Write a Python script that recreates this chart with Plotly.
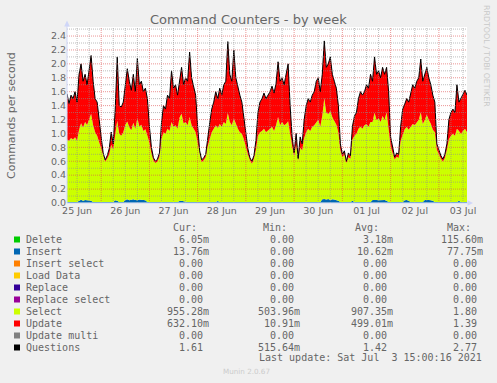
import plotly.graph_objects as go
import pandas as pd

# ---------------- data ----------------
chart_title = "Command Counters - by week"
y_title = "Commands per second"
watermark = "RRDTOOL / TOBI OETIKER"
footer = "Munin 2.0.67"
last_update = "Last update: Sat Jul\u00a0 3 15:00:16 2021"

start = "2021-06-25 07:00"
end = "2021-07-03 14:00"

day_labels = ["25 Jun", "26 Jun", "27 Jun", "28 Jun", "29 Jun", "30 Jun", "01 Jul", "02 Jul", "03 Jul"]
day_label_pos = ["2021-06-25 12:00", "2021-06-26 12:00", "2021-06-27 12:00", "2021-06-28 12:00",
                 "2021-06-29 12:00", "2021-06-30 12:00", "2021-07-01 12:00", "2021-07-02 12:00",
                 "2021-07-03 12:00"]
y_ticks = [0.0, 0.2, 0.4, 0.6, 0.8, 1.0, 1.2, 1.4, 1.6, 1.8, 2.0, 2.2, 2.4]

# hourly values starting 2021-06-25 07:00
delete = [
    0.004, 0.004, 0.004, 0.004, 0.004, 0.004, 0.004, 0.012, 0.004, 0.004, 0.010, 0.004, 0.004, 0.004, 0.004, 0.004, 0.004, 0.004, 0.004, 0.004,
    0.004, 0.004, 0.004, 0.004, 0.004, 0.004, 0.004, 0.004, 0.004, 0.004, 0.008, 0.004, 0.004, 0.004, 0.004, 0.004, 0.004, 0.004, 0.004, 0.004,
    0.004, 0.004, 0.004, 0.004, 0.004, 0.004, 0.004, 0.004, 0.004, 0.004, 0.004, 0.004, 0.004, 0.004, 0.004, 0.004, 0.004, 0.004, 0.004, 0.004,
    0.004, 0.004, 0.004, 0.004, 0.004, 0.004, 0.004, 0.004, 0.004, 0.004, 0.004, 0.004, 0.004, 0.004, 0.004, 0.004, 0.004, 0.004, 0.004, 0.004,
    0.010, 0.004, 0.004, 0.004, 0.004, 0.004, 0.004, 0.004, 0.004, 0.004, 0.004, 0.004, 0.004, 0.004, 0.004, 0.004, 0.004, 0.004, 0.004, 0.004,
    0.004, 0.004, 0.004, 0.004, 0.004, 0.004, 0.004, 0.004, 0.004, 0.004, 0.004, 0.004, 0.004, 0.004, 0.004, 0.004, 0.004, 0.004, 0.004, 0.004,
    0.004, 0.004, 0.004, 0.004, 0.004, 0.004, 0.004, 0.004, 0.004, 0.004, 0.008, 0.004, 0.004, 0.004, 0.004, 0.004, 0.004, 0.004, 0.004, 0.004,
    0.004, 0.004, 0.004, 0.004, 0.004, 0.004, 0.004, 0.004, 0.004, 0.004, 0.004, 0.004, 0.004, 0.004, 0.004, 0.004, 0.004, 0.004, 0.004, 0.004,
    0.004, 0.004, 0.004, 0.004, 0.004, 0.004, 0.004, 0.004, 0.004, 0.004, 0.004, 0.004, 0.004, 0.004, 0.004, 0.004, 0.004, 0.004, 0.004, 0.004,
    0.004, 0.004, 0.004, 0.004, 0.004, 0.004, 0.004, 0.004, 0.004, 0.004, 0.004, 0.004, 0.004, 0.004, 0.004, 0.004, 0.004, 0.004, 0.004, 0.004,
]
insert = [
    0.010, 0.010, 0.010, 0.010, 0.010, 0.010, 0.030, 0.035, 0.030, 0.040, 0.030, 0.035, 0.030, 0.012, 0.012, 0.012, 0.012, 0.012, 0.012, 0.012,
    0.012, 0.012, 0.012, 0.012, 0.035, 0.030, 0.012, 0.012, 0.012, 0.040, 0.045, 0.035, 0.040, 0.050, 0.040, 0.035, 0.045, 0.040, 0.030, 0.035,
    0.012, 0.012, 0.012, 0.012, 0.012, 0.012, 0.012, 0.012, 0.012, 0.012, 0.012, 0.012, 0.012, 0.012, 0.012, 0.012, 0.025, 0.030, 0.020, 0.012,
    0.012, 0.012, 0.012, 0.012, 0.012, 0.012, 0.012, 0.012, 0.012, 0.012, 0.012, 0.012, 0.012, 0.012, 0.012, 0.025, 0.012, 0.012, 0.012, 0.012,
    0.012, 0.012, 0.012, 0.012, 0.012, 0.012, 0.012, 0.012, 0.012, 0.012, 0.012, 0.012, 0.012, 0.012, 0.012, 0.012, 0.012, 0.012, 0.012, 0.012,
    0.012, 0.012, 0.012, 0.012, 0.012, 0.012, 0.012, 0.012, 0.012, 0.012, 0.020, 0.012, 0.012, 0.012, 0.012, 0.012, 0.012, 0.012, 0.012, 0.012,
    0.012, 0.012, 0.012, 0.012, 0.012, 0.012, 0.012, 0.050, 0.055, 0.045, 0.050, 0.040, 0.050, 0.045, 0.040, 0.030, 0.012, 0.012, 0.012, 0.012,
    0.012, 0.012, 0.030, 0.012, 0.012, 0.012, 0.012, 0.012, 0.012, 0.012, 0.012, 0.012, 0.040, 0.045, 0.040, 0.035, 0.040, 0.045, 0.040, 0.030,
    0.012, 0.012, 0.012, 0.012, 0.012, 0.012, 0.012, 0.012, 0.035, 0.040, 0.030, 0.012, 0.012, 0.012, 0.012, 0.012, 0.012, 0.012, 0.040, 0.045,
    0.040, 0.035, 0.030, 0.012, 0.012, 0.012, 0.012, 0.012, 0.012, 0.012, 0.012, 0.012, 0.012, 0.012, 0.012, 0.030, 0.012, 0.012, 0.012, 0.012,
]
select = [
    0.90, 0.88, 0.92, 0.90, 0.93, 0.88, 1.02, 1.10, 1.05, 1.12, 1.08, 1.15, 1.25, 1.10, 1.00, 0.95, 0.85, 0.78, 0.66, 0.58,
    0.62, 0.68, 0.82, 0.75, 0.95, 1.15, 0.98, 0.95, 1.00, 1.08, 1.12, 1.05, 1.00, 1.10, 1.02, 1.18, 1.05, 1.08, 1.00, 1.02,
    0.95, 0.85, 0.70, 0.60, 0.56, 0.58, 0.65, 0.90, 1.00, 0.98, 1.05, 1.02, 1.15, 1.08, 1.10, 1.05, 1.20, 1.25, 1.12, 1.15,
    1.10, 1.22, 1.10, 1.05, 1.00, 0.85, 0.68, 0.57, 0.60, 0.64, 0.80, 0.90, 1.00, 1.05, 1.10, 1.05, 1.12, 1.08, 1.15, 1.12,
    1.27, 1.15, 1.10, 1.20, 1.12, 1.05, 1.00, 0.98, 0.90, 0.78, 0.68, 0.60, 0.55, 0.62, 0.75, 0.95, 1.00, 1.02, 1.05, 1.00,
    1.02, 1.05, 1.08, 1.02, 1.10, 1.22, 1.10, 1.15, 1.10, 1.12, 1.15, 0.95, 0.80, 0.66, 0.82, 0.59, 0.78, 0.74, 0.92, 1.00,
    1.05, 1.02, 1.08, 1.10, 1.15, 1.18, 1.08, 1.20, 1.45, 1.25, 1.22, 1.28, 1.18, 1.12, 1.08, 0.98, 0.74, 0.64, 0.68, 0.56,
    0.64, 0.62, 0.88, 0.95, 0.98, 1.05, 1.08, 1.05, 1.10, 1.12, 1.08, 1.15, 1.12, 1.25, 1.15, 1.18, 1.12, 1.20, 1.15, 1.27,
    1.05, 0.80, 0.70, 0.61, 0.65, 0.63, 0.88, 0.98, 1.02, 1.05, 1.02, 1.08, 1.12, 1.10, 1.15, 1.18, 1.29, 1.12, 1.15, 1.22,
    1.15, 1.10, 1.02, 1.00, 0.75, 0.68, 0.62, 0.58, 0.63, 0.75, 0.90, 0.95, 0.98, 0.95, 1.05, 1.00, 0.98, 1.02, 1.05, 1.00,
]
update = [
    0.65, 0.53, 0.61, 0.58, 0.65, 0.55, 0.80, 0.86, 0.67, 0.69, 0.59, 0.76, 0.84, 0.63, 0.48, 0.48, 0.28, 0.15, 0.04, 0.02,
    0.04, 0.08, 0.18, 0.08, 0.36, 0.92, 0.40, 0.41, 0.43, 0.58, 0.76, 0.66, 0.58, 0.70, 0.54, 0.86, 0.60, 0.63, 0.57, 0.59,
    0.53, 0.23, 0.08, 0.03, 0.02, 0.03, 0.05, 0.23, 0.38, 0.35, 0.48, 0.46, 0.73, 0.55, 0.58, 0.48, 0.52, 0.67, 0.56, 0.63,
    0.63, 0.93, 0.68, 0.58, 0.53, 0.23, 0.05, 0.03, 0.03, 0.04, 0.13, 0.23, 0.33, 0.38, 0.48, 0.42, 0.51, 0.45, 0.53, 0.61,
    1.03, 0.68, 0.63, 0.98, 0.66, 0.58, 0.53, 0.45, 0.28, 0.15, 0.08, 0.03, 0.03, 0.04, 0.13, 0.33, 0.43, 0.46, 0.51, 0.48,
    0.51, 0.53, 0.58, 0.54, 0.60, 0.79, 0.63, 0.63, 0.58, 0.71, 0.83, 0.43, 0.13, 0.04, 0.16, 0.03, 0.15, 0.09, 0.26, 0.38,
    0.43, 0.41, 0.45, 0.48, 0.58, 0.60, 0.50, 0.60, 0.82, 0.65, 0.73, 0.78, 0.62, 0.58, 0.53, 0.39, 0.09, 0.04, 0.05, 0.02,
    0.06, 0.04, 0.19, 0.28, 0.30, 0.43, 0.50, 0.48, 0.48, 0.56, 0.55, 0.68, 0.59, 0.80, 0.66, 0.68, 0.64, 0.70, 0.66, 0.65,
    0.53, 0.13, 0.06, 0.03, 0.05, 0.05, 0.20, 0.35, 0.36, 0.41, 0.40, 0.50, 0.56, 0.53, 0.58, 0.60, 0.76, 0.61, 0.66, 0.68,
    0.61, 0.56, 0.50, 0.43, 0.08, 0.05, 0.04, 0.03, 0.05, 0.08, 0.28, 0.33, 0.35, 0.33, 0.63, 0.42, 0.50, 0.51, 0.55, 0.53,
]
questions = [
    1.57, 1.43, 1.55, 1.50, 1.60, 1.45, 1.85, 2.00, 1.75, 1.85, 1.70, 1.95, 2.12, 1.75, 1.50, 1.45, 1.15, 0.95, 0.72, 0.62,
    0.68, 0.78, 1.02, 0.85, 1.35, 2.10, 1.40, 1.38, 1.45, 1.70, 1.93, 1.75, 1.62, 1.85, 1.60, 2.08, 1.70, 1.75, 1.60, 1.65,
    1.50, 1.10, 0.80, 0.65, 0.60, 0.63, 0.72, 1.15, 1.40, 1.35, 1.55, 1.50, 1.90, 1.65, 1.70, 1.55, 1.75, 1.95, 1.70, 1.80,
    1.75, 2.17, 1.80, 1.65, 1.55, 1.10, 0.75, 0.62, 0.65, 0.70, 0.95, 1.15, 1.35, 1.45, 1.60, 1.50, 1.65, 1.55, 1.70, 1.75,
    2.32, 1.85, 1.75, 2.20, 1.80, 1.65, 1.55, 1.45, 1.20, 0.95, 0.78, 0.65, 0.60, 0.68, 0.90, 1.30, 1.45, 1.50, 1.58, 1.50,
    1.55, 1.60, 1.68, 1.58, 1.72, 2.03, 1.75, 1.80, 1.70, 1.85, 2.00, 1.40, 0.95, 0.72, 1.00, 0.64, 0.95, 0.85, 1.20, 1.40,
    1.50, 1.45, 1.55, 1.60, 1.75, 1.80, 1.60, 1.85, 2.33, 1.95, 2.00, 2.10, 1.85, 1.75, 1.65, 1.40, 0.85, 0.70, 0.75, 0.60,
    0.72, 0.68, 1.10, 1.25, 1.30, 1.50, 1.60, 1.55, 1.60, 1.70, 1.65, 1.85, 1.75, 2.10, 1.85, 1.90, 1.80, 1.95, 1.85, 1.95,
    1.60, 0.95, 0.78, 0.66, 0.72, 0.70, 1.10, 1.35, 1.42, 1.50, 1.45, 1.60, 1.70, 1.65, 1.75, 1.80, 2.07, 1.75, 1.85, 1.95,
    1.80, 1.70, 1.55, 1.45, 0.85, 0.75, 0.68, 0.63, 0.70, 0.85, 1.20, 1.30, 1.35, 1.30, 1.70, 1.45, 1.50, 1.55, 1.62, 1.55,
]

legend_names = ["Delete", "Insert", "Insert select", "Load Data", "Replace", "Replace select",
                "Select", "Update", "Update multi", "Questions"]
legend_colors = ["#00cc00", "#0066b3", "#ff8000", "#ffcc00", "#330099", "#990099",
                 "#ccff00", "#ff0000", "#808080", "#000000"]
cur_vals = ["6.05m", "13.76m", "0.00", "0.00", "0.00", "0.00", "955.28m", "632.10m", "0.00", "1.61"]
min_vals = ["0.00", "0.00", "0.00", "0.00", "0.00", "0.00", "503.96m", "10.91m", "0.00", "515.64m"]
avg_vals = ["3.18m", "10.62m", "0.00", "0.00", "0.00", "0.00", "907.35m", "499.01m", "0.00", "1.42"]
max_vals = ["115.60m", "77.75m", "0.00", "0.00", "0.00", "0.00", "1.80", "1.39", "0.00", "2.77"]

# ---------------- geometry ----------------
W, H = 497, 383
L, R, T, B = 67, 30, 27, 180
PW = W - L - R          # 400
PH = H - T - B          # 176
PB = T + PH             # 203  (pixel y of plot bottom)

def pxx(x):
    return (x - L) / PW

def pxy(y):
    return (PB - y) / PH

TXT = "#666666"
SANS = "DejaVu Sans"
MONO = "DejaVu Sans Mono"

times = pd.date_range(start, periods=len(select), freq="h")

fig = go.Figure()
series = {"Delete": delete, "Insert": insert, "Select": select, "Update": update}
for name, vals in series.items():
    col = legend_colors[legend_names.index(name)]
    fig.add_trace(go.Scatter(x=times, y=vals, mode="lines", stackgroup="cmd",
                             line=dict(width=0, color=col), fillcolor=col,
                             hoverinfo="skip", showlegend=False))
fig.add_trace(go.Scatter(x=times, y=questions, mode="lines",
                         line=dict(color="#000000", width=1),
                         hoverinfo="skip", showlegend=False))

shapes = []
# horizontal grid
for k in range(1, 26):
    v = k / 10
    major = (k % 2 == 0)
    shapes.append(dict(type="line", xref="paper", yref="y", x0=0, x1=1, y0=v, y1=v, layer="above",
                       line=dict(width=1, dash="1px,1px",
                                 color="rgba(222,79,79,0.6)" if major else "rgba(143,143,143,0.6)")))
# vertical grid
for t in pd.date_range("2021-06-25 12:00", "2021-07-03 12:00", freq="6h"):
    major = (t.hour == 0)
    shapes.append(dict(type="line", xref="x", yref="paper", x0=t, x1=t, y0=0, y1=1, layer="above",
                       line=dict(width=1, dash="1px,1px",
                                 color="rgba(222,79,79,0.6)" if major else "rgba(143,143,143,0.6)")))
# axes with arrows
AX = "#CFD6F8"
shapes.append(dict(type="line", xref="paper", yref="paper", x0=pxx(67), x1=pxx(67), y0=pxy(203), y1=pxy(25),
                   layer="above", line=dict(color=AX, width=1)))
shapes.append(dict(type="line", xref="paper", yref="paper", x0=pxx(67), x1=pxx(469), y0=pxy(203), y1=pxy(203),
                   layer="above", line=dict(color=AX, width=1)))
shapes.append(dict(type="path", xref="paper", yref="paper", layer="above", fillcolor=AX, line=dict(width=0),
                   path=f"M {pxx(64.2)} {pxy(26.5)} L {pxx(67)} {pxy(20.5)} L {pxx(69.8)} {pxy(26.5)} Z"))
shapes.append(dict(type="path", xref="paper", yref="paper", layer="above", fillcolor=AX, line=dict(width=0),
                   path=f"M {pxx(467.5)} {pxy(200.2)} L {pxx(473)} {pxy(203)} L {pxx(467.5)} {pxy(205.8)} Z"))

# legend squares
row0 = 239.5
for i, col in enumerate(legend_colors):
    yc = row0 + 12 * i
    shapes.append(dict(type="rect", xref="paper", yref="paper", x0=pxx(14), x1=pxx(20),
                       y0=pxy(yc + 3), y1=pxy(yc - 3), fillcolor=col, line=dict(width=0)))

fig.update_layout(shapes=shapes)


def txt(x, y, s, size, family=SANS, color=TXT, xanchor="left", angle=0):
    fig.add_annotation(x=pxx(x), y=pxy(y), xref="paper", yref="paper", text=s, showarrow=False,
                       xanchor=xanchor, yanchor="middle", textangle=angle, borderpad=0, borderwidth=0,
                       font=dict(family=family, size=size, color=color))


txt(248.3, 19.3, chart_title, 13, xanchor="center")
txt(11, 115, y_title, 11, xanchor="center", angle=-90)
txt(487, 56, watermark, 7.9, color="#c8c8c8", xanchor="center", angle=90)
txt(246, 371.7, footer, 7.2, color="#cccccc", xanchor="center")

# legend header
for hx, h in [(172.7, "Cur:"), (263.3, "Min:"), (355, "Avg:"), (446.7, "Max:")]:
    txt(hx, 227.3, h, 10, family=MONO)


def unit(s):
    return s if s[-1].isalpha() else s + "\u00a0"


for i, name in enumerate(legend_names):
    yc = row0 + 12 * i
    txt(26, yc, name, 10, family=MONO)
    txt(209.3, yc, unit(cur_vals[i]), 10, family=MONO, xanchor="right")
    txt(300, yc, unit(min_vals[i]), 10, family=MONO, xanchor="right")
    txt(392.5, yc, unit(avg_vals[i]), 10, family=MONO, xanchor="right")
    txt(482.5, yc, unit(max_vals[i]), 10, family=MONO, xanchor="right")

txt(482, 357.7, last_update, 10, family=MONO, xanchor="right")

fig.update_layout(
    width=W, height=H,
    margin=dict(l=L, r=R, t=T, b=B, pad=0),
    paper_bgcolor="#f0f0f0", plot_bgcolor="#ffffff",
    showlegend=False, hovermode=False,
    xaxis=dict(type="date", range=[start, end], showgrid=False, zeroline=False, showline=False,
               tickmode="array", tickvals=day_label_pos, ticktext=day_labels, ticks="",
               tickfont=dict(family=SANS, size=9.5, color=TXT), fixedrange=True),
    yaxis=dict(range=[0, 2.53], showgrid=False, zeroline=False, showline=False,
               tickmode="array", tickvals=y_ticks, ticktext=[f"{v:.1f}" for v in y_ticks], ticks="",
               tickfont=dict(family=SANS, size=9.5, color=TXT), fixedrange=True),
)

fig.write_html("out.html", config={"displayModeBar": False, "staticPlot": True},
               post_script="document.body.style.margin='0px';document.body.style.overflow='hidden';")
